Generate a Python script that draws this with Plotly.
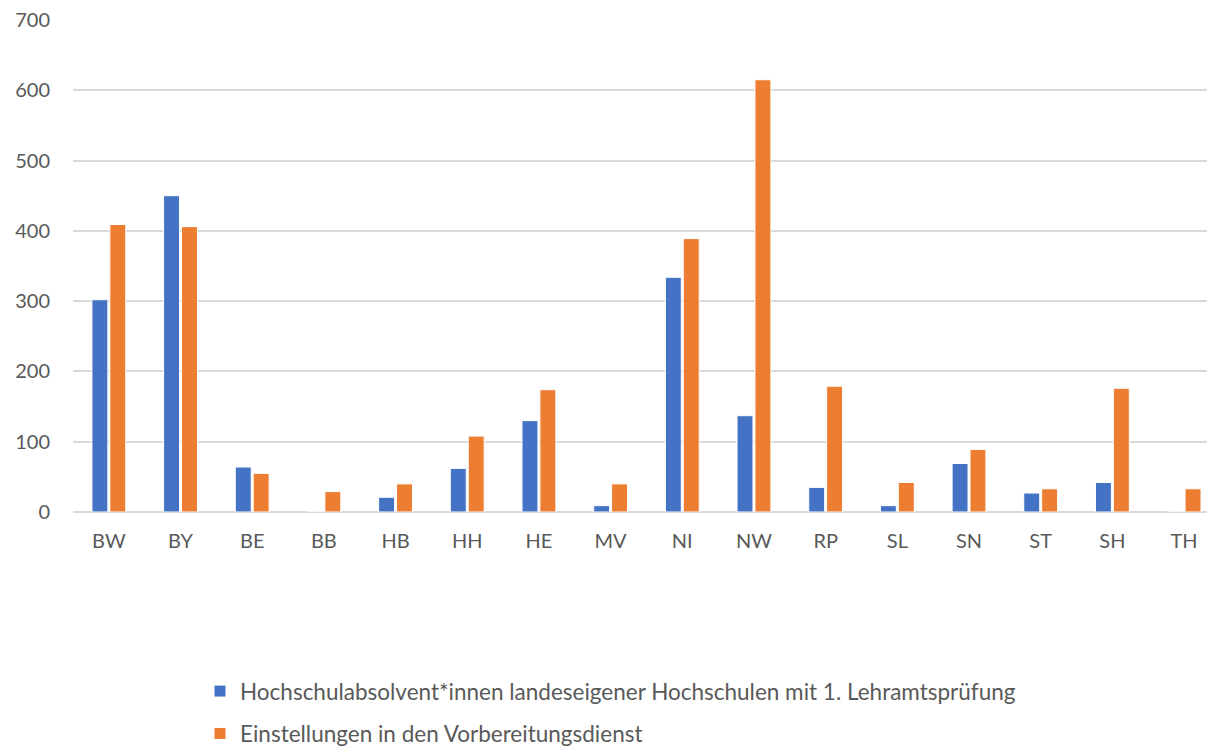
import plotly.graph_objects as go

categories = ["BW", "BY", "BE", "BB", "HB", "HH", "HE", "MV", "NI", "NW", "RP", "SL", "SN", "ST", "SH", "TH"]
absolventen = [302, 450, 64, 0, 21, 62, 130, 9, 334, 137, 35, 9, 69, 27, 42, 0]
einstellungen = [409, 406, 55, 29, 40, 108, 174, 40, 389, 615, 179, 42, 89, 33, 176, 33]
y_ticks = [0, 100, 200, 300, 400, 500, 600, 700]

name1 = "Hochschulabsolvent*innen landeseigener Hochschulen mit 1. Lehramtsprüfung"
name2 = "Einstellungen in den Vorbereitungsdienst"

FONT = "Lato"
GREY = "#595959"
TICK_SIZE = 20
LEG_SIZE = 22.5

fig = go.Figure()
fig.add_trace(go.Bar(x=categories, y=absolventen, name=name1,
                     marker=dict(color="#4472C4", line=dict(color="#ffffff", width=1)),
                     legend="legend", showlegend=True))
fig.add_trace(go.Bar(x=categories, y=einstellungen, name=name2,
                     marker=dict(color="#ED7D31", line=dict(color="#ffffff", width=1)),
                     legend="legend2", showlegend=True))

plot_h = 499
leg_x = (200 - 73) / 1134
fig.update_layout(
    width=1207, height=756,
    margin=dict(l=73, r=0, t=20, b=237),
    paper_bgcolor="white", plot_bgcolor="white",
    barmode="group", bargap=0.5, bargroupgap=0.11,
    showlegend=True,
    font=dict(family=FONT, size=TICK_SIZE, color=GREY),
    xaxis=dict(range=[-0.5, 15.32], showgrid=False, showline=False, zeroline=False,
               automargin=False, ticks="", ticklabelstandoff=15,
               tickfont=dict(size=TICK_SIZE, color=GREY)),
    yaxis=dict(range=[0, 700], tickvals=y_ticks, showgrid=True, gridcolor="#d9d9d9",
               gridwidth=1.5, zeroline=True, zerolinecolor="#d9d9d9", zerolinewidth=1.5,
               showline=False, automargin=False, ticks="", ticklabelstandoff=22,
               tickfont=dict(size=TICK_SIZE, color=GREY)),
    legend=dict(x=leg_x, xanchor="left", y=(519 - 701) / plot_h, yanchor="middle",
                bgcolor="rgba(0,0,0,0)", font=dict(size=LEG_SIZE, color=GREY), itemwidth=30),
    legend2=dict(x=leg_x, xanchor="left", y=(519 - 744) / plot_h, yanchor="middle",
                 bgcolor="rgba(0,0,0,0)", font=dict(size=LEG_SIZE, color=GREY), itemwidth=30),
)

fig.write_html("out.html", config={"displayModeBar": False},
               post_script="document.body.style.margin='0';document.body.style.overflow='hidden';")
